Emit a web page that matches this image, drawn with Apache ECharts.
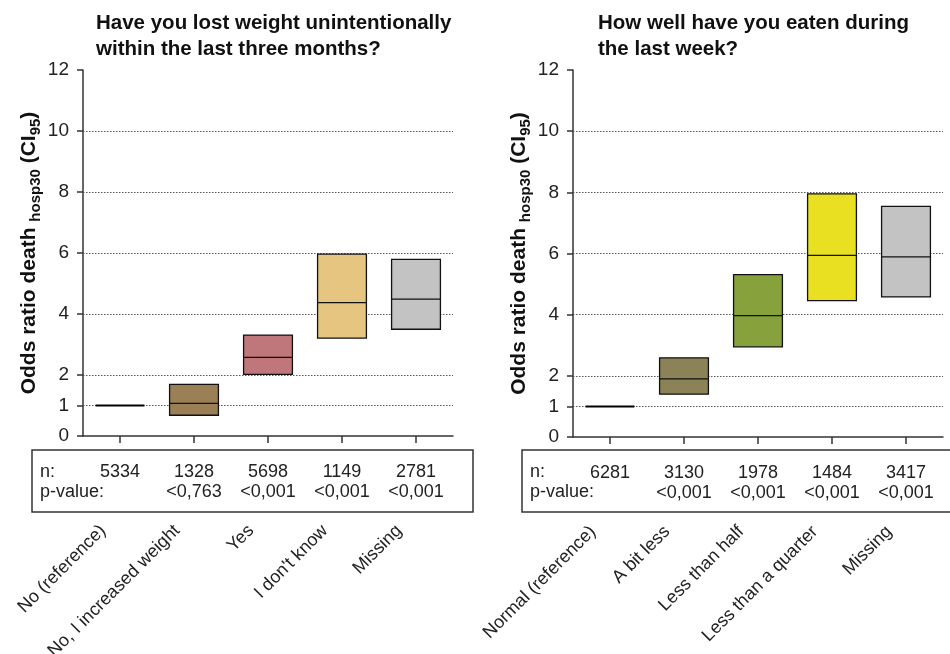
<!DOCTYPE html>
<html>
<head>
<meta charset="utf-8">
<script src="https://cdn.jsdelivr.net/npm/echarts@6/dist/echarts.min.js"></script>
<style>
  html, body { margin: 0; padding: 0; background: #fff; }
  #chart { width: 950px; height: 654px; }
</style>
</head>
<body>
<div id="chart"></div>
<script>
// Odds ratios (lower CI, estimate, upper CI) for 30-day in-hospital death
const weightCategories = ['No (reference)', 'No, I increased weight', 'Yes', "I don't know", 'Missing'];
const weightLow  = [1, 0.68, 2.02, 3.21, 3.50];
const weightOR   = [1, 1.07, 2.58, 4.37, 4.49];
const weightHigh = [1, 1.69, 3.31, 5.96, 5.79];
const weightN    = [5334, 1328, 5698, 1149, 2781];
const weightP    = ['', '<0,763', '<0,001', '<0,001', '<0,001'];

const eatenCategories = ['Normal (reference)', 'A bit less', 'Less than half', 'Less than a quarter', 'Missing'];
const eatenLow  = [1, 1.40, 2.95, 4.46, 4.58];
const eatenOR   = [1, 1.90, 3.97, 5.94, 5.89];
const eatenHigh = [1, 2.59, 5.31, 7.95, 7.54];
const eatenN    = [6281, 3130, 1978, 1484, 3417];
const eatenP    = ['', '<0,001', '<0,001', '<0,001', '<0,001'];

const yTicks = [0, 1, 2, 4, 6, 8, 10, 12];
const gridValues = [1, 2, 4, 6, 8, 10];

const weightColors = ['#000000', '#9b7f55', '#bf777b', '#e6c580', '#c3c3c3'];
const eatenColors  = ['#000000', '#8b8257', '#87a23c', '#e8e021', '#c3c3c3'];

const FONT = 'Liberation Sans, Arial, sans-serif';
const AXIS = '#333';

function rows(low, or, high) {
  return low.map((v, i) => [i, v, or[i], high[i]]);
}

function boxRenderer(colors) {
  return function (params, api) {
    const x = api.value(0);
    const lo = api.value(1), mid = api.value(2), hi = api.value(3);
    const w = api.size([1, 0])[0] * 0.66;
    const pLo = api.coord([x, lo]);
    const pHi = api.coord([x, hi]);
    const pMid = api.coord([x, mid]);
    if (hi === lo) {
      return {
        type: 'line',
        shape: { x1: pMid[0] - w / 2, y1: pMid[1], x2: pMid[0] + w / 2, y2: pMid[1] },
        style: { stroke: '#000', lineWidth: 2 }
      };
    }
    return {
      type: 'group',
      children: [
        {
          type: 'rect',
          shape: { x: pHi[0] - w / 2, y: pHi[1], width: w, height: pLo[1] - pHi[1] },
          style: { fill: colors[params.dataIndex], stroke: '#111', lineWidth: 1.3 }
        },
        {
          type: 'line',
          shape: { x1: pMid[0] - w / 2, y1: pMid[1], x2: pMid[0] + w / 2, y2: pMid[1] },
          style: { stroke: '#111', lineWidth: 1.3 }
        }
      ]
    };
  };
}

const yName = '{b|Odds ratio death }{s|hosp30}{b| (CI}{s|95}{b|)}';

function yAxis(gridIndex) {
  return {
    type: 'value', gridIndex, min: 0, max: 12, interval: 2,
    name: yName, nameLocation: 'middle', nameGap: 40,
    nameTextStyle: {
      rich: {
        b: { fontSize: 21, fontWeight: 'bold', fontFamily: FONT, color: '#111', lineHeight: 27 },
        s: { fontSize: 15, fontWeight: 'bold', fontFamily: FONT, color: '#111', lineHeight: 15, verticalAlign: 'bottom' }
      }
    },
    axisLine: { show: true, lineStyle: { color: AXIS, width: 1.5 } },
    axisTick: { show: true, length: 6, customValues: yTicks, lineStyle: { color: AXIS, width: 1.5 } },
    axisLabel: { customValues: yTicks, margin: 14, fontSize: 19, color: '#222', fontFamily: FONT },
    splitLine: { show: false }
  };
}

function catAxis(gridIndex, cats) {
  return {
    type: 'category', gridIndex, data: cats, boundaryGap: true,
    axisLine: { show: true, lineStyle: { color: AXIS, width: 1.5 } },
    axisTick: { show: true, alignWithLabel: true, length: 7, lineStyle: { color: AXIS, width: 1.5 } },
    axisLabel: {
      interval: 0, rotate: 45, margin: 75, padding: [0, 24, 0, 0],
      fontSize: 18, color: '#222', fontFamily: FONT
    }
  };
}

function tableAxis(gridIndex, cats, n, p) {
  return {
    type: 'category', gridIndex, data: cats, position: 'bottom', offset: 0,
    axisLine: { show: false }, axisTick: { show: false },
    axisLabel: {
      interval: 0, margin: 26, fontSize: 18, lineHeight: 20, color: '#222', fontFamily: FONT,
      formatter: (v, i) => n[i] + '\n' + p[i]
    }
  };
}

function gridLines(xAxisIndex, yAxisIndex) {
  return {
    type: 'line', xAxisIndex, yAxisIndex, data: [], z: 1, silent: true,
    markLine: {
      symbol: ['none', 'none'], silent: true, animation: false,
      label: { show: false },
      lineStyle: { color: '#555', width: 1, type: [1.5, 1.5] },
      data: gridValues.map(v => ({ yAxis: v }))
    }
  };
}

const titleStyle = { fontSize: 20.5, fontWeight: 'bold', lineHeight: 26, color: '#111', fontFamily: FONT };

const chart = echarts.init(document.getElementById('chart'));
chart.setOption({
  animation: false,
  backgroundColor: '#fff',
  title: [
    { text: 'Have you lost weight unintentionally\nwithin the last three months?', left: 96, top: 10, padding: 0, textStyle: titleStyle },
    { text: 'How well have you eaten during\nthe last week?', left: 598, top: 10, padding: 0, textStyle: titleStyle }
  ],
  grid: [
    { left: 83, top: 70, width: 370, height: 366, outerBoundsMode: 'none' },
    { left: 573, top: 70, width: 370, height: 367, outerBoundsMode: 'none' }
  ],
  xAxis: [
    catAxis(0, weightCategories),
    tableAxis(0, weightCategories, weightN, weightP),
    catAxis(1, eatenCategories),
    tableAxis(1, eatenCategories, eatenN, eatenP)
  ],
  yAxis: [yAxis(0), yAxis(1)],
  graphic: [
    { type: 'rect', shape: { x: 32, y: 450, width: 441, height: 62 }, style: { fill: 'none', stroke: '#333', lineWidth: 1.5 } },
    { type: 'text', x: 40, y: 462, style: { text: 'n:\np-value:', fontSize: 18, lineHeight: 20, fill: '#222', font: '18px ' + FONT } },
    { type: 'rect', shape: { x: 522, y: 450, width: 440, height: 62 }, style: { fill: 'none', stroke: '#333', lineWidth: 1.5 } },
    { type: 'text', x: 530, y: 462, style: { text: 'n:\np-value:', fontSize: 18, lineHeight: 20, fill: '#222', font: '18px ' + FONT } }
  ],
  series: [
    gridLines(0, 0),
    gridLines(2, 1),
    {
      type: 'custom', xAxisIndex: 0, yAxisIndex: 0, z: 5,
      renderItem: boxRenderer(weightColors),
      encode: { x: 0, y: [1, 2, 3] },
      data: rows(weightLow, weightOR, weightHigh)
    },
    {
      type: 'custom', xAxisIndex: 2, yAxisIndex: 1, z: 5,
      renderItem: boxRenderer(eatenColors),
      encode: { x: 0, y: [1, 2, 3] },
      data: rows(eatenLow, eatenOR, eatenHigh)
    }
  ]
});
</script>
</body>
</html>
